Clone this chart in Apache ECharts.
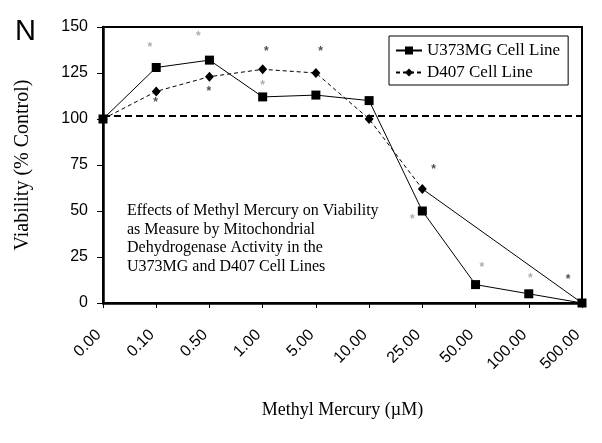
<!DOCTYPE html>
<html>
<head>
<meta charset="utf-8">
<script src="https://cdn.jsdelivr.net/npm/echarts@6/dist/echarts.min.js"></script>
<style>
  html, body { margin: 0; padding: 0; background: #fff; }
  #chart { width: 602px; height: 443px; }
</style>
</head>
<body>
<div id="chart"></div>
<script>
// Methyl mercury concentrations (µM)
const doses = ['0.00', '0.10', '0.50', '1.00', '5.00', '10.00', '25.00', '50.00', '100.00', '500.00'];

// Viability (% control)
const u373mg = [100, 128, 132, 112, 113, 110, 50, 10, 5, 0];
const d407 = [100, 115, 123, 127, 125, 100, 62, null, null, 0];

// Control reference level
const controlLevel = 102;

// Significance markers: [dose position, viability level]
const sigDark = [[0.99, 109], [1.99, 114.7], [3.07, 136.4], [4.09, 136.4], [6.21, 72.4], [8.74, 12.7]];
const sigLight = [[0.88, 138.6], [1.79, 144.6], [3.0, 118.3], [5.81, 45.3], [7.12, 19], [8.03, 13.2]];

const yTicks = [0, 25, 50, 75, 100, 125, 150];

const toPairs = arr => arr.map((v, i) => [i, v]);

// D407 dashed up to 25 µM, then a plain connector to the highest dose
const lastDashed = 6;
const d407Dashed = d407.map((v, i) => [i, i <= lastDashed ? v : null]);
const d407Tail = d407.map((v, i) => [i, i >= lastDashed ? v : null]);

const serif = '"Liberation Serif", "Times New Roman", serif';
const sans = '"Liberation Sans", Arial, sans-serif';

const chart = echarts.init(document.getElementById('chart'), null, { renderer: 'canvas' });

const sigSeries = (data, color) => ({
  type: 'scatter',
  data: data,
  symbol: 'circle',
  symbolSize: 1,
  itemStyle: { color: 'rgba(0,0,0,0)' },
  silent: true,
  z: 1,
  label: {
    show: true,
    position: 'inside',
    formatter: '*',
    color: color,
    fontFamily: sans,
    fontSize: 12,
    fontWeight: 'bold'
  }
});

chart.setOption({
  animation: false,
  backgroundColor: '#fff',
  grid: {
    left: 103, right: 20, top: 27, bottom: 140,
    show: true, borderColor: '#000', borderWidth: 2
  },
  legend: {
    orient: 'vertical',
    left: 389, top: 36,
    data: ['U373MG Cell Line', 'D407 Cell Line'],
    borderColor: '#000', borderWidth: 1,
    padding: [6, 8, 4, 6],
    itemGap: 5,
    itemWidth: 26, itemHeight: 10,
    textStyle: { fontFamily: serif, fontSize: 17, color: '#000' }
  },
  graphic: [
    {
      type: 'text', left: 15, top: 17,
      style: { text: 'N', font: '29px ' + sans, fill: '#000' }
    },
    {
      type: 'text', left: 127, top: 202,
      style: {
        text: 'Effects of Methyl Mercury on Viability\nas Measure by Mitochondrial\nDehydrogenase Activity in the\nU373MG and D407 Cell Lines',
        font: '16px ' + serif, fill: '#000', lineHeight: 18.4
      }
    }
  ],
  xAxis: {
    type: 'value',
    min: 0, max: doses.length - 1, interval: 1,
    name: 'Methyl Mercury (\u00b5M)',
    nameLocation: 'middle', nameGap: 98,
    nameTextStyle: { fontFamily: serif, fontSize: 18, color: '#000' },
    axisLine: { lineStyle: { color: '#000', width: 2.5 } },
    axisTick: { show: true, length: 5, lineStyle: { color: '#000', width: 1 } },
    axisLabel: {
      rotate: 45, margin: 25,
      padding: [0, 6, 0, 0],
      fontFamily: sans, fontSize: 16, color: '#000',
      formatter: v => doses[v] ?? ''
    },
    splitLine: { show: false }
  },
  yAxis: {
    type: 'value',
    min: yTicks[0], max: yTicks[yTicks.length - 1], interval: 25,
    name: 'Viability (% Control)',
    nameLocation: 'middle', nameGap: 70,
    nameTextStyle: { fontFamily: serif, fontSize: 20, color: '#000' },
    axisLine: { show: true, lineStyle: { color: '#000', width: 2.5 } },
    axisTick: { show: true, length: 6, lineStyle: { color: '#000', width: 1 } },
    axisLabel: { margin: 15, fontFamily: sans, fontSize: 16, color: '#000' },
    splitLine: { show: false }
  },
  series: [
    {
      name: 'U373MG Cell Line',
      type: 'line',
      data: toPairs(u373mg),
      symbol: 'rect', symbolSize: 9,
      itemStyle: { color: '#000' },
      lineStyle: { color: '#000', width: 1 },
      z: 4,
      markLine: {
        silent: true, symbol: 'none',
        label: { show: false },
        lineStyle: { color: '#000', width: 2, type: [7, 4] },
        data: [{ yAxis: controlLevel }]
      }
    },
    {
      name: 'D407 Cell Line',
      type: 'line',
      data: d407Dashed,
      symbol: 'diamond', symbolSize: [9, 10],
      itemStyle: { color: '#000' },
      lineStyle: { color: '#000', width: 1, type: [4, 3] },
      z: 3
    },
    {
      name: 'D407 tail',
      type: 'line',
      data: d407Tail,
      connectNulls: true,
      symbol: 'none',
      lineStyle: { color: '#000', width: 1 },
      z: 3
    },
    sigSeries(sigDark, '#222'),
    sigSeries(sigLight, '#999')
  ]
});
</script>
</body>
</html>
